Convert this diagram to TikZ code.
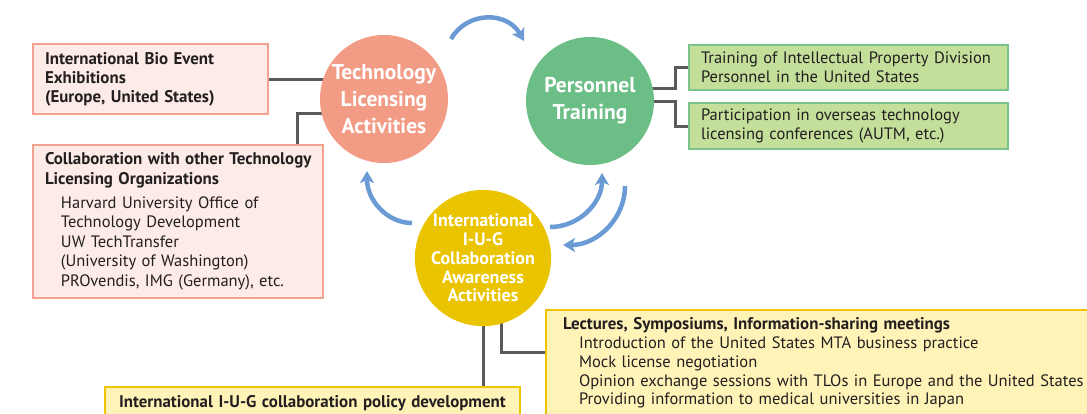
\documentclass[tikz,border=0pt]{standalone}
\usepackage{fontspec}
\setmainfont{PT Sans}
\usetikzlibrary{arrows.meta}
\definecolor{techc}{HTML}{F29B85}
\definecolor{pinkfill}{HTML}{FCEBE6}
\definecolor{pinkline}{HTML}{F2A28E}
\definecolor{persc}{HTML}{6BBE85}
\definecolor{greenfill}{HTML}{C4DF9A}
\definecolor{greenline}{HTML}{78C48A}
\definecolor{iugc}{HTML}{EBC400}
\definecolor{yelfill}{HTML}{FFF3B8}
\definecolor{yelline}{HTML}{EFC500}
\definecolor{conncol}{HTML}{5A5A5A}
\definecolor{arrcol}{HTML}{6A9BD5}
\definecolor{txtcol}{HTML}{231F20}
\pgfdeclarelayer{bg}
\pgfsetlayers{bg,main}
\tikzset{
  circ/.style={circle, minimum size=128pt, inner sep=0pt, text=white, align=center},
  bigtxt/.style={font=\bfseries\fontsize{21.5}{27}\selectfont},
  smalltxt/.style={font=\bfseries\fontsize{18}{18.8}\selectfont},
  boxbase/.style={anchor=north west, line width=2pt, align=left, inner ysep=0pt, text=txtcol,
    font=\fontsize{16.5}{19}\selectfont},
  pinkbox/.style={boxbase, draw=pinkline, fill=pinkfill},
  greenbox/.style={boxbase, draw=greenline, fill=greenfill},
  yelbox/.style={boxbase, draw=yelline, fill=yelfill},
  conn/.style={draw=conncol, line width=3pt},
  cyc/.style={draw=arrcol, line width=4.5pt, -{Stealth[length=12pt,width=14pt,inset=3pt]}}
}
\newcommand{\ind}{\hspace*{16pt}}
\newcommand{\Li}[1]{\mbox{#1}}
\newcommand{\Hd}[1]{\mbox{\fontsize{16.9}{19}\selectfont\bfseries #1}}
\begin{document}
\begin{tikzpicture}[x=1pt,y=-1pt]
\useasboundingbox (0,0) rectangle (1087,413);
% circles
\node[circ, fill=techc, bigtxt] (tech) at (384,99) {Technology\\Licensing\\Activities};
\node[circ, fill=persc, bigtxt] (pers) at (590,101) {Personnel\\Training};
\node[circ, fill=iugc, smalltxt] (iug) at (483,258) {International\\I-U-G\\Collaboration\\Awareness\\Activities};
% boxes
\node[pinkbox, minimum width=235pt, minimum height=70pt, text width=211pt, inner xsep=12pt] (box1) at (32,43)
  {\Hd{International Bio Event}\\\Hd{Exhibitions}\\\Hd{(Europe, United States)}};
\node[pinkbox, minimum width=290pt, minimum height=153pt, text width=266pt, inner xsep=12pt,
  font=\fontsize{16.5}{19.6}\selectfont] (box2) at (32,144)
  {\Hd{Collaboration with other Technology}\\\Hd{Licensing Organizations}\\[4pt]
   \ind\Li{Harvard University Office of}\\\ind\Li{Technology Development}\\\ind\Li{UW TechTransfer}\\
   \ind\Li{(University of Washington)}\\\ind\Li{PROvendis, IMG (Germany), etc.}};
\node[greenbox, minimum width=319pt, minimum height=45pt, text width=295pt, inner xsep=12pt] (g1) at (688,44)
  {\Li{Training of Intellectual Property Division}\\\Li{Personnel in the United States}};
\node[greenbox, minimum width=319pt, minimum height=46pt, text width=295pt, inner xsep=12pt] (g2) at (688,102)
  {\Li{Participation in overseas technology}\\\Li{licensing conferences (AUTM, etc.)}};
\node[yelbox, minimum width=560pt, minimum height=106pt, text width=526pt, inner xsep=17pt,
  font=\fontsize{16.5}{18.75}\selectfont] (lect) at (545,309)
  {\Hd{Lectures, Symposiums, Information-sharing meetings}\\
   \ind\Li{Introduction of the United States MTA business practice}\\
   \ind\Li{Mock license negotiation}\\
   \ind\Li{Opinion exchange sessions with TLOs in Europe and the United States}\\
   \ind\Li{Providing information to medical universities in Japan}};
\node[yelbox, minimum width=415pt, minimum height=32pt, text width=387pt, inner xsep=14pt] (pol) at (104,386)
  {\Hd{International I-U-G collaboration policy development}};
% connectors
\begin{pgfonlayer}{bg}
\draw[conn] (box1.east) -- (box1.east -| tech.center);
\draw[conn] ([yshift=-14pt]tech.center) -| ([xshift=265pt]box2.north west);
\draw[conn] ([yshift=13pt]pers.center) -| ([xshift=-13pt]g1.west) -- (g1.west);
\draw[conn] ([yshift=0pt]pers.center) -| ([xshift=-13pt]g2.west) -- (g2.west);
\draw[conn] (iug.center) -- (iug.center |- pol.north);
\draw[conn] ([xshift=18pt]iug.center) |- ([yshift=11pt]lect.west);
\end{pgfonlayer}
% cycle arrows
\coordinate (a1s) at (451,39);
\coordinate (a1e) at (524,41);
\draw[cyc] (a1s) .. controls (467,11) and (507,11) .. (a1e);
\coordinate (a2s) at (412,223);
\coordinate (a2e) at (367,171);
\draw[cyc] (a2s) .. controls (387,223) and (367,200) .. (a2e);
\coordinate (a3s) at (550,227);
\coordinate (a3e) at (602,173);
\draw[cyc] (a3s) .. controls (579,227) and (602,203) .. (a3e);
\coordinate (a4s) at (625,186);
\coordinate (a4e) at (563,245);
\draw[cyc] (a4s) .. controls (625,219) and (597,245) .. (a4e);
\end{tikzpicture}
\end{document}
